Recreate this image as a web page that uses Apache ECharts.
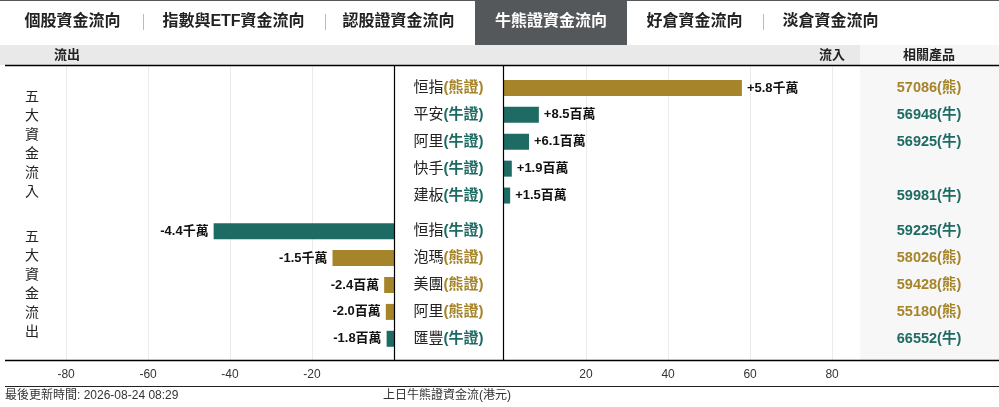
<!DOCTYPE html>
<html>
<head>
<meta charset="utf-8">
<title>牛熊證資金流向</title>
<script src="https://cdn.jsdelivr.net/npm/echarts@6.0.0/dist/echarts.min.js"></script>
<style>
    html, body { margin: 0; padding: 0; background: #fff; }
    #flowchart { width: 999px; height: 407px; }
</style>
</head>
<body>
<div id="flowchart"></div>
<script>
// 分頁
var tabNames = ['個股資金流向', '指數與ETF資金流向', '認股證資金流向', '牛熊證資金流向', '好倉資金流向', '淡倉資金流向'];
var activeTab = 3;

// 五大資金流入 (單位: 百萬港元)
var inNames = ['恒指', '平安', '阿里', '快手', '建板'];
var inTypes = ['熊證', '牛證', '牛證', '牛證', '牛證'];
var inValues = [58, 8.5, 6.1, 1.9, 1.5];
var inProducts = ['57086(熊)', '56948(牛)', '56925(牛)', '', '59981(牛)'];

// 五大資金流出 (單位: 百萬港元)
var outNames = ['恒指', '泡瑪', '美團', '阿里', '匯豐'];
var outTypes = ['牛證', '熊證', '熊證', '熊證', '牛證'];
var outValues = [-44, -15, -2.4, -2.0, -1.8];
var outProducts = ['59225(牛)', '58026(熊)', '59428(熊)', '55180(熊)', '66552(牛)'];

var updateTime = '最後更新時間: 2026-08-24 08:29';
var chartNote = '上日牛熊證資金流(港元)';

var BEAR = '#a5842a';
var BULL = '#1e6b64';
var FONT = "'Liberation Sans', 'Noto Sans CJK TC', sans-serif";

var myChart = echarts.init(document.getElementById('flowchart'));

function fmtAmount(v) {
    var sign = v > 0 ? '+' : '-';
    var a = Math.abs(v);
    if (a >= 10) {
        return sign + (a / 10).toFixed(1) + '千萬';
    }
    return sign + a.toFixed(1) + '百萬';
}

var nameRich = {
    n: {color: '#222', fontSize: 15, fontFamily: FONT},
    bear: {color: BEAR, fontSize: 15, fontWeight: 'bold', fontFamily: FONT},
    bull: {color: BULL, fontSize: 15, fontWeight: 'bold', fontFamily: FONT},
    pbear: {color: BEAR, fontSize: 14.5, fontWeight: 'bold', fontFamily: FONT},
    pbull: {color: BULL, fontSize: 14.5, fontWeight: 'bold', fontFamily: FONT}
};

function nameFormatter(types) {
    return function (value, idx) {
        var t = types[idx];
        return '{n|' + value + '}{' + (t === '熊證' ? 'bear' : 'bull') + '|(' + t + ')}';
    };
}

function productFormatter(value) {
    if (!value) return '';
    return '{' + (value.indexOf('熊') >= 0 ? 'pbear' : 'pbull') + '|' + value + '}';
}

function barData(values, types) {
    return values.map(function (v, i) {
        return {
            value: Math.abs(v),
            itemStyle: {color: types[i] === '熊證' ? BEAR : BULL}
        };
    });
}

// 背景的刻度軸
function bgAxis(grid, inverse, max, sign) {
    return {
        gridIndex: grid,
        type: 'value',
        inverse: inverse,
        min: 0,
        max: max,
        interval: 20,
        axisLine: {show: false},
        axisTick: {show: false},
        splitLine: {
            show: true,
            showMinLine: false,
            showMaxLine: false,
            lineStyle: {color: '#ebebeb', width: 1}
        },
        axisLabel: {
            margin: 9,
            color: '#333',
            fontSize: 12,
            fontFamily: FONT,
            showMinLabel: false,
            showMaxLabel: false,
            formatter: function (v) {
                if (v <= 0 || v > 80) return '';
                return sign + v;
            }
        }
    };
}

function catAxis(grid, data, position, margin, formatter, offset) {
    return {
        gridIndex: grid,
        type: 'category',
        inverse: true,
        position: position,
        offset: offset || 0,
        data: data,
        axisLine: {show: false},
        axisTick: {show: false},
        splitLine: {show: false},
        axisLabel: {
            interval: 0,
            align: 'center',
            margin: margin,
            formatter: formatter,
            rich: nameRich
        }
    };
}

// 頂部分頁及表頭
var tabCenters = [72.5, 233.5, 398.5, 551, 694.5, 830.5];
var graphics = [
    {type: 'rect', shape: {x: 0, y: 0, width: 999, height: 1}, style: {fill: '#55585b'}},
    {type: 'rect', shape: {x: 475, y: 0, width: 152, height: 45}, style: {fill: '#55585b'}},
    {type: 'rect', shape: {x: 0, y: 45, width: 860, height: 20}, style: {fill: '#e9e9e9'}},
    {type: 'rect', shape: {x: 860, y: 45, width: 139, height: 20}, style: {fill: '#f6f6f6'}},
    {type: 'rect', z: -10, shape: {x: 860, y: 66, width: 139, height: 294}, style: {fill: '#f7f7f7'}}
];
tabNames.forEach(function (name, i) {
    graphics.push({
        type: 'text',
        style: {
            text: name, x: tabCenters[i], y: 22,
            align: 'center', verticalAlign: 'middle',
            fontSize: 16, fontWeight: 'bold', fontFamily: FONT,
            fill: i === activeTab ? '#fff' : '#222'
        }
    });
});
[143, 325, 763].forEach(function (x) {
    graphics.push({
        type: 'line', shape: {x1: x + 0.5, y1: 14, x2: x + 0.5, y2: 30},
        style: {stroke: '#bbb', lineWidth: 1}
    });
});
[['流出', 67], ['流入', 832], ['相關產品', 929]].forEach(function (h) {
    graphics.push({
        type: 'text',
        style: {
            text: h[0], x: h[1], y: 55.5, align: 'center', verticalAlign: 'middle',
            fontSize: 13, fontWeight: 'bold', fontFamily: FONT, fill: '#222'
        }
    });
});
// 框線
graphics.push(
    {type: 'line', z: 10, shape: {x1: 5, y1: 65.5, x2: 999, y2: 65.5}, style: {stroke: '#000', lineWidth: 1.5}},
    {type: 'line', z: 10, shape: {x1: 394.5, y1: 66, x2: 394.5, y2: 360}, style: {stroke: '#000', lineWidth: 1.2}},
    {type: 'line', z: 10, shape: {x1: 503.5, y1: 66, x2: 503.5, y2: 360}, style: {stroke: '#000', lineWidth: 1.2}},
    {type: 'line', z: 10, shape: {x1: 5, y1: 360.5, x2: 999, y2: 360.5}, style: {stroke: '#000', lineWidth: 1.5}},
    {type: 'line', z: 10, shape: {x1: 5, y1: 386.5, x2: 999, y2: 386.5}, style: {stroke: '#222', lineWidth: 1.2}}
);
// 左側直排文字
[['五大資金流入', 144.5], ['五大資金流出', 285]].forEach(function (t) {
    graphics.push({
        type: 'text',
        style: {
            text: t[0].split('').join('\n'), x: 32, y: t[1],
            align: 'center', verticalAlign: 'middle', lineHeight: 19,
            fontSize: 14, fontFamily: FONT, fill: '#222'
        }
    });
});
// 頁腳
graphics.push(
    {type: 'text', style: {text: updateTime, x: 5, y: 396, verticalAlign: 'middle', fontSize: 12, fontFamily: FONT, fill: '#333'}},
    {type: 'text', style: {text: chartNote, x: 447, y: 396, align: 'center', verticalAlign: 'middle', fontSize: 12, fontFamily: FONT, fill: '#333'}}
);

var barLabel = {
    show: true,
    distance: 5,
    color: '#111',
    fontSize: 13,
    fontWeight: 'bold',
    fontFamily: FONT
};

var option = {
    animation: false,
    textStyle: {fontFamily: FONT},
    grid: [
        {left: 5, top: 66, width: 389, height: 294, outerBoundsMode: 'none', containLabel: false},
        {left: 504, top: 66, width: 356, height: 294, outerBoundsMode: 'none', containLabel: false},
        {left: 504, top: 74.5, width: 356, height: 134.5, outerBoundsMode: 'none', containLabel: false},
        {left: 5, top: 217.75, width: 389, height: 134.5, outerBoundsMode: 'none', containLabel: false}
    ],
    xAxis: [
        bgAxis(0, true, 94.9, '-'),
        bgAxis(1, false, 86.8, ''),
        {gridIndex: 2, type: 'value', show: false, min: 0, max: 86.8},
        {gridIndex: 3, type: 'value', show: false, inverse: true, min: 0, max: 94.9}
    ],
    yAxis: [
        {gridIndex: 0, type: 'category', show: false, data: ['']},
        {gridIndex: 1, type: 'category', show: false, data: ['']},
        catAxis(2, inNames, 'left', 55.5, nameFormatter(inTypes)),
        catAxis(2, inProducts, 'right', 69, productFormatter),
        catAxis(3, outNames, 'right', 54.5, nameFormatter(outTypes)),
        catAxis(3, outProducts, 'right', 69, productFormatter, 466)
    ],
    series: [
        {
            name: '流入',
            type: 'bar',
            xAxisIndex: 2,
            yAxisIndex: 2,
            barWidth: 16,
            silent: true,
            data: barData(inValues, inTypes),
            label: Object.assign({}, barLabel, {
                position: 'right',
                formatter: function (p) {
                    return fmtAmount(inValues[p.dataIndex]);
                }
            })
        },
        {
            name: '流出',
            type: 'bar',
            xAxisIndex: 3,
            yAxisIndex: 4,
            barWidth: 16,
            silent: true,
            data: barData(outValues, outTypes),
            label: Object.assign({}, barLabel, {
                position: 'left',
                formatter: function (p) {
                    return fmtAmount(outValues[p.dataIndex]);
                }
            })
        }
    ],
    graphic: graphics
};

myChart.setOption(option);
</script>
</body>
</html>
